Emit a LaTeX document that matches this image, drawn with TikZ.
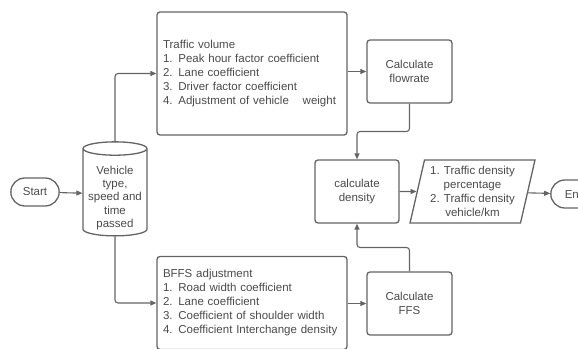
\documentclass[tikz,border=0pt]{standalone}
\usepackage{fontspec}
\setmainfont{Liberation Sans}
\usepackage{tikz}
\usetikzlibrary{shapes.geometric, arrows.meta, positioning, calc, shapes.misc}
\definecolor{flowline}{HTML}{646464}
\definecolor{flowtext}{HTML}{4A4A4A}

\begin{document}
\begin{tikzpicture}[
    x=1pt, y=-1pt,
    every node/.style={text=flowtext, font=\fontsize{11.5}{14}\selectfont},
    term/.style={draw=flowline, line width=1.3pt, rounded rectangle, minimum width=55pt, minimum height=28pt},
    pbox/.style={draw=flowline, line width=1.3pt, rounded corners=3pt, align=center},
    listbox/.style={pbox, minimum width=190pt, text width=178pt, align=left},
    arr/.style={-{Triangle[length=6pt,width=5pt]}, line width=1.1pt, flowline, rounded corners=3pt}
  ]
    \useasboundingbox (0,0) rectangle (578,348);
    \node[term] (start) at (35,192) {Start};
    \node[draw=flowline, line width=1.3pt, cylinder, shape border rotate=90, aspect=2,
          minimum height=94pt, minimum width=64pt,
          label={[align=center, yshift=-4pt, font=\fontsize{11.5}{13.2}\selectfont]center:Vehicle\\type,\\speed and\\time\\passed}] (data) at (115,194) {};
    \node[listbox, minimum height=123pt] (vol) at (252,73.5) {Traffic volume\\1. Peak hour factor coefficient\\2. Lane coefficient\\3. Driver factor coefficient\\4. Adjustment of vehicle\hspace{10pt} weight};
    \node[listbox, minimum height=93pt] (bffs) at (252,303) {BFFS adjustment\\1. Road width coefficient\\2. Lane coefficient\\3. Coefficient of shoulder width\\4. Coefficient Interchange density};
    \node[pbox, minimum width=85pt, minimum height=63pt] (flow) at (409.5,71.5) {Calculate\\flowrate};
    \node[pbox, minimum width=85pt, minimum height=63pt] (ffs) at (409.5,303.5) {Calculate\\FFS};
    \node[pbox, minimum width=84pt, minimum height=63pt] (dens) at (357,191.5) {calculate\\density};
    \node[draw=flowline, line width=1.3pt, trapezium, trapezium left angle=76, trapezium right angle=104,
          trapezium stretches=true, minimum width=125pt, minimum height=63pt, align=center, inner sep=1pt] (res) at (472.5,191.5)
          {1. Traffic density\\percentage\\2. Traffic density\\vehicle/km};
    \node[term] (end) at (575,194) {End};
    \draw[arr] (start) -- (data);
    \draw[arr] (data.north) |- (vol.west);
    \draw[arr] (data.south) |- (bffs.west);
    \draw[arr] (vol.east |- flow.west) -- (flow.west);
    \draw[arr] (bffs.east |- ffs.west) -- (ffs.west);
    \draw[arr] (flow.south) |- ($(flow.south)!.5!(dens.north)$) -| (dens.north);
    \draw[arr] (ffs.north) |- ($(ffs.north)!.5!(dens.south)$) -| (dens.south);
    \draw[arr] (dens) -- (res);
    \draw[arr] (res) -- (end);
  \end{tikzpicture}
\end{document}
